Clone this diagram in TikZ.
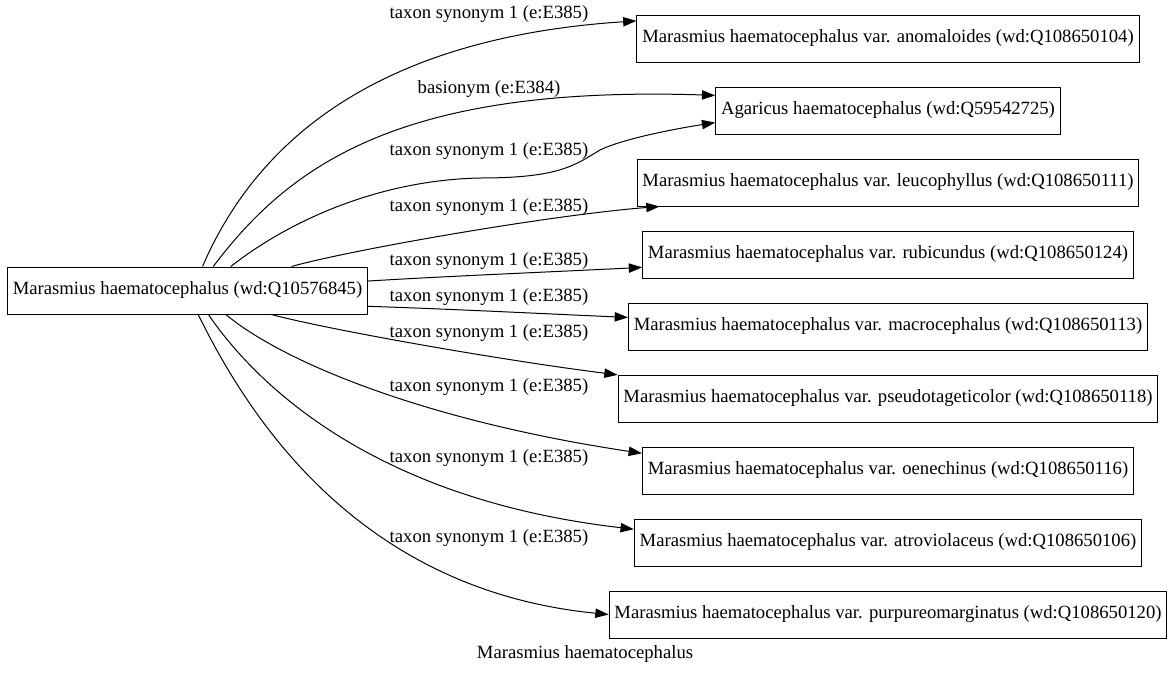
\documentclass[tikz,border=0pt]{standalone}
\usepackage{fontspec}
\setmainfont{Liberation Serif}
\usetikzlibrary{arrows.meta}
\tikzset{
  taxon/.style  ={draw, line width=0.75pt, minimum height=35.25pt,
                  inner xsep=4pt, font=\fontsize{14}{16}\selectfont},
  rel/.style    ={-{Triangle[length=10pt, width=7pt]}, line width=0.75pt},
  relname/.style={font=\fontsize{14}{16}\selectfont, inner sep=0pt},
}

\begin{document}
\begin{tikzpicture}[x=0.75pt, y=-0.75pt]
\useasboundingbox (0,0) rectangle (1171,675);

% source taxon
\node[taxon] (src) at (187.5, 290.5) {Marasmius haematocephalus (wd:Q10576845)};

% synonyms and basionym
\node[taxon] (anom) at (888,  38.5) {Marasmius haematocephalus var. anomaloides (wd:Q108650104)};
\node[taxon] (agar) at (888, 110.5) {Agaricus haematocephalus (wd:Q59542725)};
\node[taxon] (leuc) at (888, 182.5) {Marasmius haematocephalus var. leucophyllus (wd:Q108650111)};
\node[taxon] (rubi) at (888, 254.5) {Marasmius haematocephalus var. rubicundus (wd:Q108650124)};
\node[taxon] (macr) at (888, 326.5) {Marasmius haematocephalus var. macrocephalus (wd:Q108650113)};
\node[taxon] (pseu) at (888, 398.5) {Marasmius haematocephalus var. pseudotageticolor (wd:Q108650118)};
\node[taxon] (oene) at (888, 470.5) {Marasmius haematocephalus var. oenechinus (wd:Q108650116)};
\node[taxon] (atro) at (888, 542.5) {Marasmius haematocephalus var. atroviolaceus (wd:Q108650106)};
\node[taxon] (purp) at (888, 614.5) {Marasmius haematocephalus var. purpureomarginatus (wd:Q108650120)};

% edges
\draw[rel] (src.58) .. controls (270,110) and (420,35) .. (anom.176);
\draw[rel] (src.43) .. controls (290,165) and (400,85) .. (agar.175);
\draw[rel] (src.29) .. controls (290,220) and (380,180) .. (480,178)
                    .. controls (560,178) and (575,165) .. (600,150)
                    .. controls (625,138) and (680,128) .. (agar.184);
\draw[rel] (src.13) .. controls (350,250) and (550,215) .. (leuc.186);
\draw[rel] (src.3)  .. controls (450,276) and (550,272) .. (rubi.183);
\draw[rel] (src.-5) .. controls (450,309) and (550,314) .. (macr.178);
\draw[rel] (src.-16) .. controls (330,330) and (500,360) .. (pseu.175);
\draw[rel] (src.-32) .. controls (280,360) and (420,420) .. (oene.176);
\draw[rel] (src.-49) .. controls (260,390) and (380,500) .. (atro.177.5);
\draw[rel] (src.-66) .. controls (250,420) and (360,590) .. (purp.180);

% edge labels
\node[relname] (l1)  at (489,  14) {taxon synonym 1 (e:E385)};
\node[relname] (l2)  at (489,  89) {basionym (e:E384)};
\node[relname] (l3)  at (489, 151) {taxon synonym 1 (e:E385)};
\node[relname] (l4)  at (489, 207) {taxon synonym 1 (e:E385)};
\node[relname] (l5)  at (489, 261) {taxon synonym 1 (e:E385)};
\node[relname] (l6)  at (489, 297) {taxon synonym 1 (e:E385)};
\node[relname] (l7)  at (489, 333) {taxon synonym 1 (e:E385)};
\node[relname] (l8)  at (489, 387) {taxon synonym 1 (e:E385)};
\node[relname] (l9)  at (489, 458) {taxon synonym 1 (e:E385)};
\node[relname] (l10) at (489, 538) {taxon synonym 1 (e:E385)};

\node[relname] (cap) at (585, 654) {Marasmius haematocephalus};

\end{tikzpicture}
\end{document}
